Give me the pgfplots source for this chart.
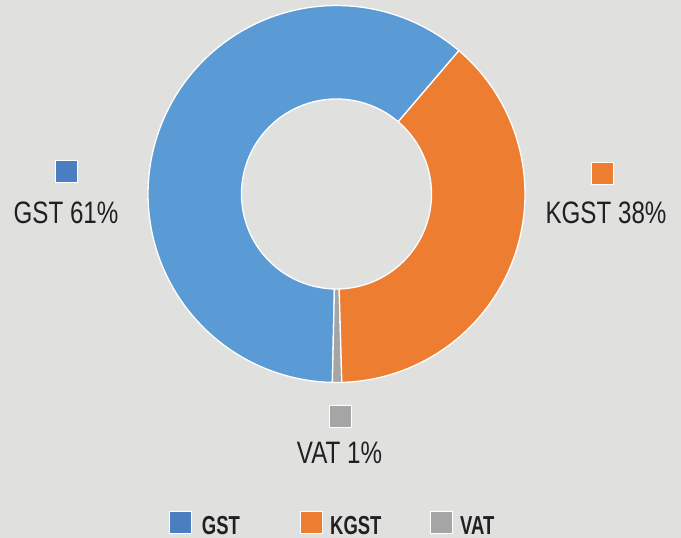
\documentclass[border=0pt]{standalone}
\usepackage{pgfplots}
\pgfplotsset{compat=1.18}
\usepackage{pgfplotstable}
\usepackage{fontspec}
\setmainfont{Liberation Sans}[FakeStretch=0.78]
\newfontfamily\legfont{Liberation Sans}[FakeStretch=0.71]
\usetikzlibrary{backgrounds}
\definecolor{bg}{HTML}{E0E0DF}
\definecolor{gst}{HTML}{5B9BD5}
\definecolor{gstkey}{HTML}{4A7EC0}
\definecolor{kgst}{HTML}{ED7D31}
\definecolor{vat}{HTML}{A5A5A5}
\definecolor{txt}{HTML}{231F20}

% share of each tax (per cent)
\pgfplotstableread{
label value
GST 60.9
KGST 38.3
VAT 0.8
}\slices

\newcommand{\Ro}{188.5}
\newcommand{\Ri}{95}
\newcommand{\Cx}{336.5}
\newcommand{\Cy}{344}

% one ring segment between angles #2 and #3 (degrees, counter-clockwise)
\newcommand{\donutslice}[3]{%
  \addplot[fill=#1, draw=white, line width=1.3bp, domain=0:2.05, samples=206, variable=\t]
  ({\Cx + (\t<1.025 ? \Ro*cos(#2+(#3-#2)*min(\t,1)) : \Ri*cos(#3-(#3-#2)*min(max(\t-1.05,0),1)))},
   {\Cy + (\t<1.025 ? \Ro*sin(#2+(#3-#2)*min(\t,1)) : \Ri*sin(#3-(#3-#2)*min(max(\t-1.05,0),1)))}) -- cycle;
}
\tikzset{key/.style={fill=#1, draw=white, line width=1bp, minimum size=22bp, inner sep=0pt},
  lab/.style={anchor=base, text=txt, font=\fontsize{31bp}{36bp}\selectfont},
  leg/.style={anchor=base west, inner sep=0pt, text=txt, font=\legfont\bfseries\fontsize{26bp}{30bp}\selectfont}}

\begin{document}%
\begin{tikzpicture}[show background rectangle, inner frame sep=0pt,
  background rectangle/.style={fill=bg, draw=none}]
\pgfplotstablegetelem{0}{value}\of\slices\edef\vG{\pgfplotsretval}
\pgfplotstablegetelem{1}{value}\of\slices\edef\vK{\pgfplotsretval}
\pgfplotstablegetelem{2}{value}\of\slices\edef\vV{\pgfplotsretval}
\pgfmathsetmacro\aA{49.5}
\pgfmathsetmacro\aB{\aA+3.6*\vG}
\pgfmathsetmacro\aC{\aB+3.6*\vV}
\pgfmathsetmacro\aD{\aC+3.6*\vK}
\begin{axis}[
  scale only axis, width=681bp, height=538bp,
  xmin=0, xmax=681, ymin=0, ymax=538,
  hide axis, clip=false,
]
\path (rel axis cs:0,0) rectangle (rel axis cs:1,1);
\donutslice{gst}{\aA}{\aB}
\donutslice{vat}{\aB}{\aC}
\donutslice{kgst}{\aC}{\aD}

% data labels with keys
\node[key=gstkey] at (axis cs:66.5,366.5) {};
\node[lab] at (axis cs:66,314) {GST 61\%};
\node[key=kgst] at (axis cs:602.5,364) {};
\node[lab] at (axis cs:606,314) {KGST 38\%};
\node[key=vat] at (axis cs:340,121) {};
\node[lab] at (axis cs:339.5,74) {VAT 1\%};

% legend
\node[key=gstkey] at (axis cs:180,15) {};
\node[leg] at (axis cs:201.7,4) {GST};
\node[key=kgst] at (axis cs:311.5,15) {};
\node[leg] at (axis cs:330,4) {KGST};
\node[key=vat] at (axis cs:441.5,15) {};
\node[leg] at (axis cs:460,4) {VAT};
\end{axis}
\end{tikzpicture}%
\end{document}
